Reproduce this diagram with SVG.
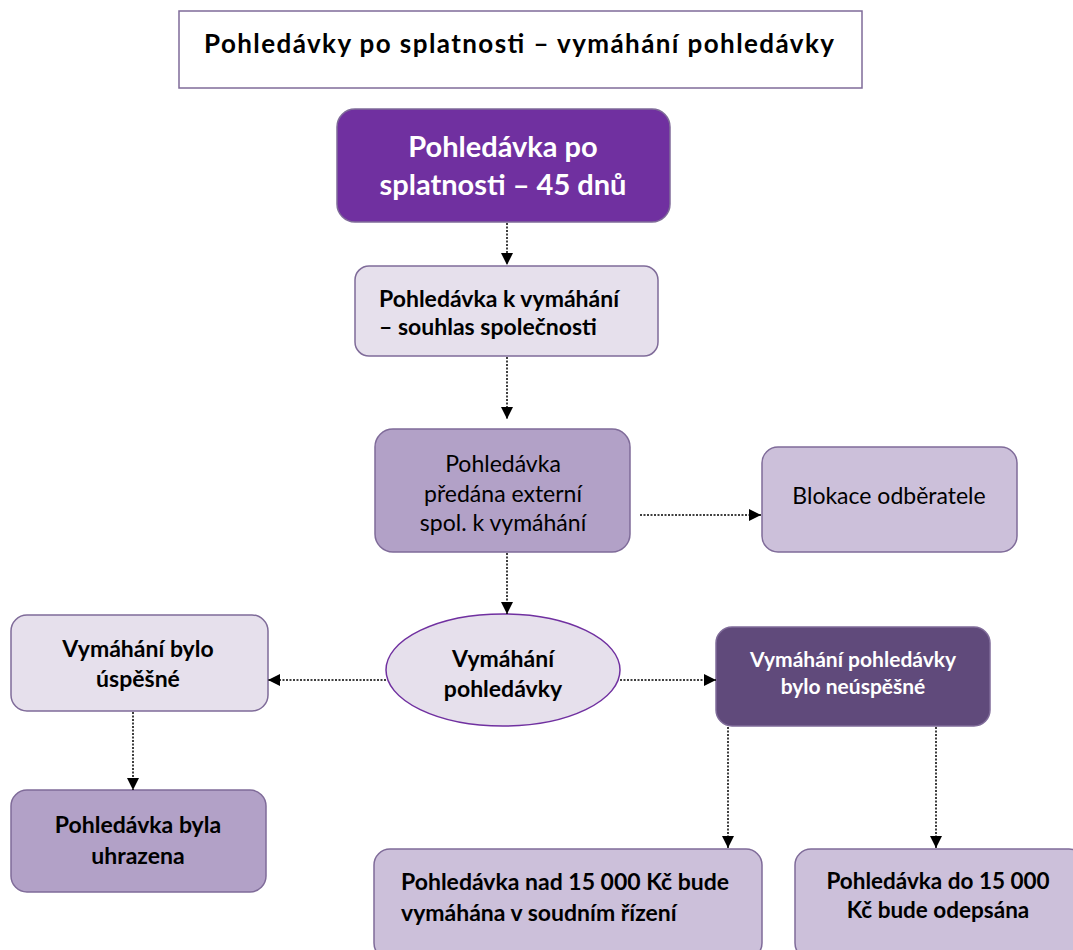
<svg xmlns="http://www.w3.org/2000/svg" width="1073" height="950" viewBox="0 0 1073 950">
<defs>
<marker id="ah" markerWidth="13" markerHeight="12" refX="12" refY="6" orient="auto" markerUnits="userSpaceOnUse">
<path d="M0,0 L12,6 L0,12 z" fill="#000"/>
</marker>
<style>
.t{font-family:Lato,"Liberation Sans",sans-serif;fill:#000}
.b{font-weight:bold}
.w{fill:#fff}
.box{stroke:#7f6b99;stroke-width:1.5}
.c{stroke:#000;stroke-width:1.5;stroke-dasharray:2 1.5;fill:none;marker-end:url(#ah)}
</style>
</defs>
<rect width="1073" height="950" fill="#fff"/>
<g id="title">
<rect x="179" y="11" width="683" height="77" fill="#fff" stroke="#7f6b99" stroke-width="1.5"/>
<text class="t b" x="204" y="53" font-size="26" textLength="630">Pohledávky po splatnosti – vymáhání pohledávky</text>
</g>
<g id="n1">
<rect class="box" x="337" y="109" width="333" height="113" rx="18" fill="#7030A0"/>
<text class="t b w" x="503" y="157" font-size="29" text-anchor="middle">Pohledávka po</text>
<text class="t b w" x="503" y="195" font-size="29" text-anchor="middle">splatnosti – 45 dnů</text>
</g>
<g id="n2">
<rect class="box" x="355" y="266" width="303" height="90" rx="14" fill="#E6E0EC"/>
<text class="t b" x="379" y="307" font-size="23">Pohledávka k vymáhání</text>
<text class="t b" x="379" y="335" font-size="23">– souhlas společnosti</text>
</g>
<g id="n3">
<rect class="box" x="375" y="429" width="255" height="123" rx="18" fill="#B2A1C7"/>
<text class="t" x="503" y="472" font-size="23" text-anchor="middle">Pohledávka</text>
<text class="t" x="503" y="502" font-size="23" text-anchor="middle">předána externí</text>
<text class="t" x="503" y="531" font-size="23" text-anchor="middle">spol. k vymáhání</text>
</g>
<g id="n4">
<rect class="box" x="762" y="447" width="255" height="105" rx="16" fill="#CCC0DA"/>
<text class="t" x="889" y="504" font-size="23" text-anchor="middle">Blokace odběratele</text>
</g>
<g id="n5">
<ellipse cx="503" cy="670" rx="117" ry="56" fill="#E6E0EC" stroke="#7030A0" stroke-width="1.5"/>
<text class="t b" x="503" y="667" font-size="23" text-anchor="middle">Vymáhání</text>
<text class="t b" x="503" y="697" font-size="23" text-anchor="middle">pohledávky</text>
</g>
<g id="n6">
<rect class="box" x="11" y="615" width="257" height="96" rx="16" fill="#E6E0EC"/>
<text class="t b" x="138" y="657" font-size="23" text-anchor="middle">Vymáhání bylo</text>
<text class="t b" x="138" y="687" font-size="23" text-anchor="middle">úspěšné</text>
</g>
<g id="n7">
<rect class="box" x="716" y="627" width="274" height="99" rx="16" fill="#604A7B"/>
<text class="t b w" x="853" y="667" font-size="21" text-anchor="middle">Vymáhání pohledávky</text>
<text class="t b w" x="853" y="694" font-size="21" text-anchor="middle">bylo neúspěšné</text>
</g>
<g id="n8">
<rect class="box" x="11" y="790" width="255" height="102" rx="16" fill="#B2A1C7"/>
<text class="t b" x="138" y="833" font-size="23" text-anchor="middle">Pohledávka byla</text>
<text class="t b" x="138" y="864" font-size="23" text-anchor="middle">uhrazena</text>
</g>
<g id="n9">
<rect class="box" x="374" y="849" width="388" height="110" rx="16" fill="#CCC0DA"/>
<text class="t b" x="401" y="890" font-size="23">Pohledávka nad 15 000 Kč bude</text>
<text class="t b" x="401" y="921" font-size="23">vymáhána v soudním řízení</text>
</g>
<g id="n10">
<rect class="box" x="795" y="849" width="290" height="110" rx="16" fill="#CCC0DA"/>
<text class="t b" x="938" y="889" font-size="22.5" text-anchor="middle">Pohledávka do 15 000</text>
<text class="t b" x="938" y="918" font-size="22.5" text-anchor="middle">Kč bude odepsána</text>
</g>
<g id="connectors">
<line class="c" x1="507" y1="223" x2="507" y2="265"/>
<line class="c" x1="507" y1="357" x2="507" y2="419"/>
<line class="c" x1="640" y1="515" x2="761" y2="515"/>
<line class="c" x1="507" y1="553" x2="507" y2="614"/>
<line class="c" x1="386" y1="680" x2="268" y2="680"/>
<line class="c" x1="620" y1="680" x2="716" y2="680"/>
<line class="c" x1="133" y1="712" x2="133" y2="790"/>
<line class="c" x1="728" y1="727" x2="728" y2="848"/>
<line class="c" x1="936" y1="727" x2="936" y2="848"/>
</g>
</svg>
